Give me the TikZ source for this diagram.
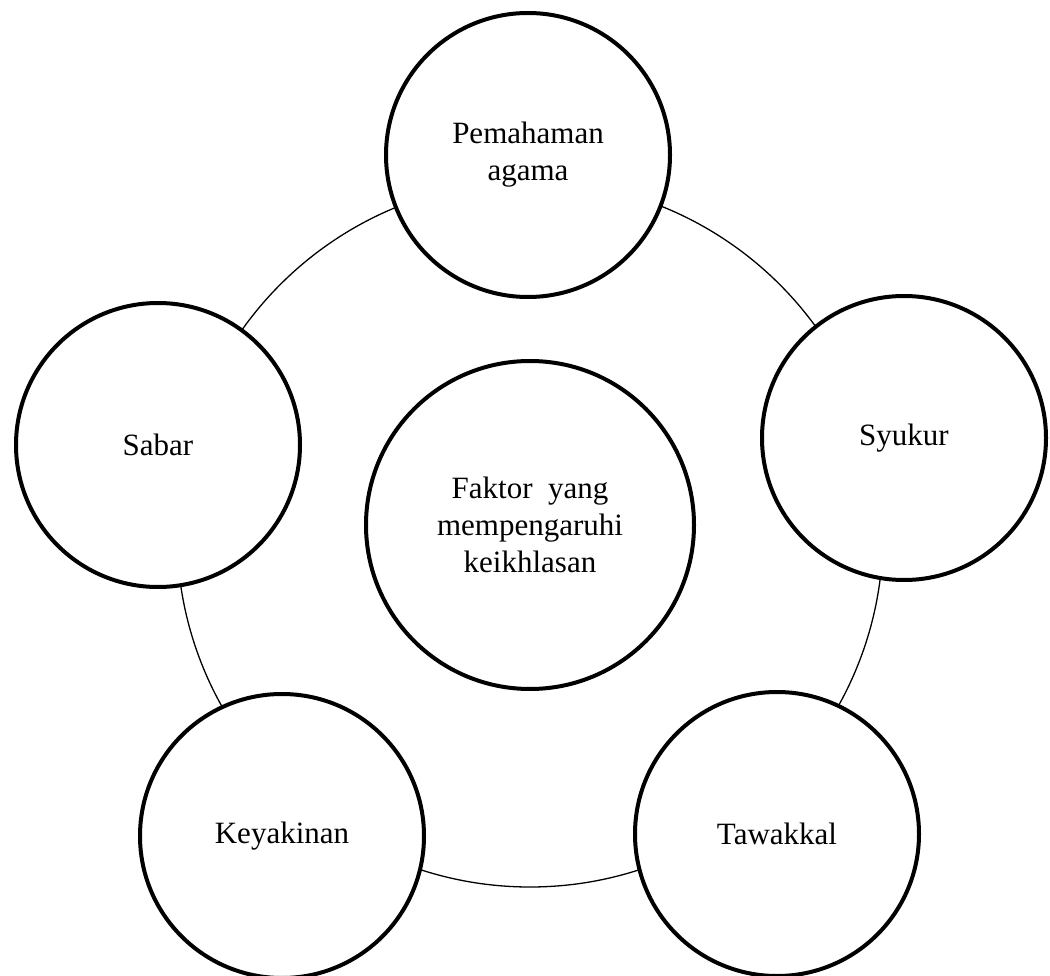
\documentclass[tikz,border=0pt]{standalone}
\usepackage{fontspec}
\setmainfont{Liberation Serif}
\begin{document}
\begin{tikzpicture}[x=1pt,y=-1pt,
  bubble/.style={circle, draw=black, line width=4pt, fill=white, minimum size=284pt, inner sep=0pt, align=center, font=\fontsize{31}{37}\selectfont},
  bigbubble/.style={bubble, minimum size=328pt},
  ring/.style={draw=black, line width=1.3pt}]
\useasboundingbox (0,0) rectangle (1050,976);
\coordinate (rc) at (530,534);
\draw[ring] (rc) circle[radius=353pt];
\node[bubble] (agama) at (528,155) {Pemahaman\\agama};
\node[bubble] (sabar) at (158,445) {Sabar};
\node[bubble] (syukur) at (904,438) {Syukur};
\node[bubble] (yakin) at (282,836) {Keyakinan};
\node[bubble] (tawakkal) at (777,834) {Tawakkal};
\node[bigbubble] (faktor) at (530,525) {Faktor\ \ yang\\mempengaruhi\\keikhlasan};
\end{tikzpicture}
\end{document}
